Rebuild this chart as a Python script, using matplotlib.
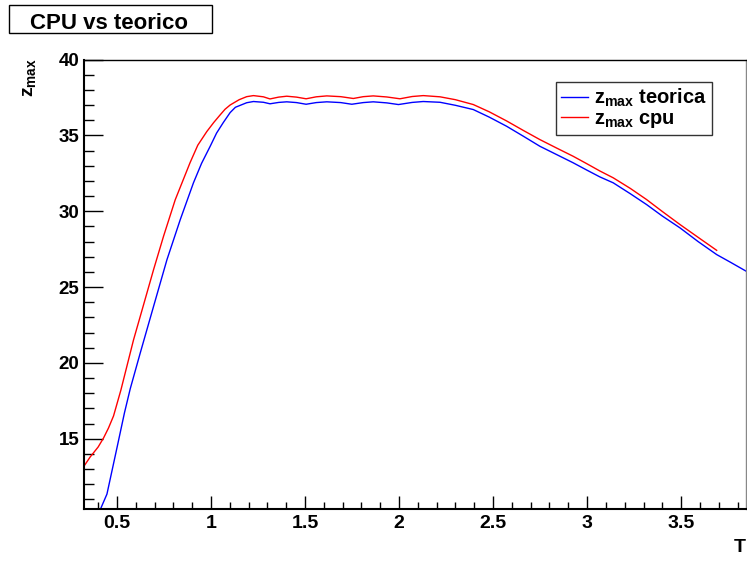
import matplotlib
matplotlib.use("Agg")
import matplotlib.pyplot as plt
from matplotlib.patches import Rectangle
from matplotlib.ticker import MultipleLocator, FixedLocator, FuncFormatter

plt.rcParams['font.family'] = ['Liberation Sans', 'DejaVu Sans']
plt.rcParams['font.weight'] = 'bold'
plt.rcParams['mathtext.fontset'] = 'custom'
plt.rcParams['mathtext.rm'] = 'Liberation Sans:bold'
plt.rcParams['mathtext.it'] = 'Liberation Sans:bold'
plt.rcParams['mathtext.bf'] = 'Liberation Sans:bold'

# z_max teorica (blue)
T_teo = [0.39, 0.415, 0.447, 0.502, 0.54, 0.571, 0.624, 0.695, 0.766, 0.837,
         0.907, 0.95, 0.996, 1.03, 1.066, 1.102, 1.13, 1.19, 1.226, 1.279,
         1.314, 1.36, 1.403, 1.455, 1.506, 1.56, 1.616, 1.69, 1.749, 1.81,
         1.863, 1.935, 1.997, 2.07, 2.129, 2.218, 2.30, 2.395, 2.48, 2.572,
         2.66, 2.749, 2.84, 2.926, 3.0, 3.068, 3.139, 3.23, 3.316, 3.40,
         3.494, 3.59, 3.689, 3.76, 3.845]
z_teo = [9.7, 10.43, 11.35, 14.5, 16.7, 18.3, 20.65, 23.73, 26.8, 29.45,
         31.87, 33.15, 34.28, 35.15, 35.85, 36.5, 36.85, 37.15, 37.23, 37.18,
         37.08, 37.17, 37.21, 37.16, 37.05, 37.16, 37.21, 37.16, 37.05, 37.16,
         37.21, 37.14, 37.03, 37.17, 37.23, 37.18, 36.98, 36.7, 36.2, 35.6,
         34.95, 34.28, 33.72, 33.19, 32.7, 32.26, 31.87, 31.15, 30.44, 29.68,
         28.9, 28.0, 27.14, 26.65, 26.05]

# z_max cpu (red)
T_cpu = [0.32, 0.358, 0.40, 0.429, 0.455, 0.482, 0.521, 0.588, 0.641, 0.695,
         0.748, 0.81, 0.889, 0.93, 0.978, 1.015, 1.049, 1.075, 1.102, 1.15,
         1.19, 1.226, 1.279, 1.314, 1.36, 1.403, 1.455, 1.506, 1.56, 1.616,
         1.69, 1.757, 1.81, 1.863, 1.935, 2.005, 2.07, 2.129, 2.218, 2.30,
         2.395, 2.48, 2.572, 2.66, 2.749, 2.84, 2.926, 3.0, 3.068, 3.139,
         3.23, 3.316, 3.40, 3.494, 3.59, 3.689]
z_cpu = [13.1, 13.8, 14.45, 15.05, 15.7, 16.5, 18.2, 21.5, 23.8, 26.15,
         28.35, 30.75, 33.2, 34.35, 35.25, 35.85, 36.35, 36.72, 37.0, 37.35,
         37.55, 37.62, 37.54, 37.40, 37.52, 37.58, 37.52, 37.41, 37.54, 37.60,
         37.55, 37.43, 37.55, 37.60, 37.53, 37.41, 37.56, 37.62, 37.54, 37.35,
         37.03, 36.55, 35.95, 35.33, 34.72, 34.15, 33.62, 33.12, 32.65, 32.2,
         31.5, 30.77, 29.98, 29.12, 28.28, 27.42]

x_ticks = [0.5, 1, 1.5, 2, 2.5, 3, 3.5]
y_ticks = [15, 20, 25, 30, 35, 40]

W, H = 747, 562
fig = plt.figure(figsize=(W / 100, H / 100), dpi=100)
ax = fig.add_axes([84 / W, 1 - 508.5 / H, (746 - 84) / W, (508.5 - 59.5) / H])

ax.plot(T_teo, z_teo, color='#0000ff', lw=1.0, label=r'$z_{max}$ teorica')
ax.plot(T_cpu, z_cpu, color='#ff0000', lw=1.0, label=r'$z_{max}$ cpu')

ax.set_xlim(0.325, 3.845)
ax.set_ylim(10.4, 40)

ax.xaxis.set_major_locator(FixedLocator(x_ticks))
ax.yaxis.set_major_locator(FixedLocator(y_ticks))
ax.xaxis.set_minor_locator(MultipleLocator(0.1))
ax.yaxis.set_minor_locator(MultipleLocator(1))
ax.xaxis.set_major_formatter(FuncFormatter(lambda v, p: f'{v:g}'))

ax.tick_params(axis='x', which='major', direction='in', length=9.7, width=1,
               labelsize=14, pad=4.5)
ax.tick_params(axis='x', which='minor', direction='in', length=4.8, width=1)
ax.tick_params(axis='y', which='major', direction='in', length=14, width=1,
               labelsize=13.5, pad=3.5)
ax.tick_params(axis='y', which='minor', direction='in', length=7, width=1)

ax.spines['left'].set_linewidth(1.5)
ax.spines['bottom'].set_linewidth(1.5)
ax.spines['top'].set_linewidth(1.0)
ax.spines['right'].set_linewidth(1.0)
ax.spines['right'].set_color('#888888')

# axis titles
fig.text(30 / W, 1 - 78 / H, r'$z_{max}$', rotation=90, ha='center',
         va='center', fontsize=14)
fig.text(740 / W, 1 - 548 / H, 'T', ha='center', va='center', fontsize=14)

# title box
fig.patches.append(Rectangle((9.3 / W, 1 - 33.3 / H), (211.7 - 9.3) / W,
                             (33.3 - 5) / H, transform=fig.transFigure,
                             facecolor='white', edgecolor='black', lw=1.0))
fig.text(108.8 / W, 1 - 29 / H, 'CPU vs teorico', ha='center',
         va='baseline', fontsize=16, fontweight='bold')

leg = ax.legend(loc='upper left', bbox_to_anchor=(556 / W, 1 - 82 / H),
                bbox_transform=fig.transFigure, frameon=True, fancybox=False,
                edgecolor='black', borderpad=0.25, handlelength=1.35,
                handletextpad=0.3, labelspacing=0.0, fontsize=14.5,
                borderaxespad=0)
leg.get_frame().set_linewidth(1.0)

fig.savefig('out.png', dpi=100)
